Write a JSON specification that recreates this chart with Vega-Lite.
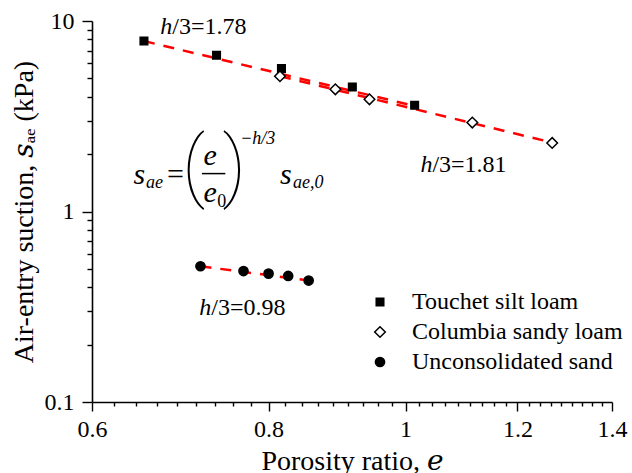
{
  "$schema": "https://vega.github.io/schema/vega-lite/v6.json",
  "width": 520,
  "height": 381,
  "autosize": "none",
  "padding": {"left": 92, "top": 21, "right": 20, "bottom": 71},
  "background": "white",
  "config": {
    "view": {"stroke": null},
    "font": "Liberation Serif, Times New Roman, DejaVu Serif, serif",
    "axis": {"grid": false, "domainColor": "black", "domainWidth": 1.6, "tickColor": "black", "tickWidth": 1.4, "labelColor": "black", "titleColor": "black", "labelFont": "Liberation Serif, Times New Roman, DejaVu Serif, serif", "titleFont": "Liberation Serif, Times New Roman, DejaVu Serif, serif", "labelFontSize": 24, "titleFontSize": 28, "titleFontWeight": "normal", "labelFlush": false, "labelOverlap": false},
    "legend": {"labelFont": "Liberation Serif, Times New Roman, DejaVu Serif, serif"},
    "text": {"font": "Liberation Serif, Times New Roman, DejaVu Serif, serif"}
  },
  "datasets": {
    "points": [
      {"soil": "Touchet silt loam", "e": 0.653, "s": 7.85},
      {"soil": "Touchet silt loam", "e": 0.735, "s": 6.61},
      {"soil": "Touchet silt loam", "e": 0.817, "s": 5.63},
      {"soil": "Touchet silt loam", "e": 0.917, "s": 4.50},
      {"soil": "Touchet silt loam", "e": 1.015, "s": 3.61},
      {"soil": "Columbia sandy loam", "e": 0.815, "s": 5.13},
      {"soil": "Columbia sandy loam", "e": 0.892, "s": 4.38},
      {"soil": "Columbia sandy loam", "e": 0.943, "s": 3.88},
      {"soil": "Columbia sandy loam", "e": 1.115, "s": 2.93},
      {"soil": "Columbia sandy loam", "e": 1.270, "s": 2.29},
      {"soil": "Unconsolidated sand", "e": 0.716, "s": 0.516},
      {"soil": "Unconsolidated sand", "e": 0.768, "s": 0.487},
      {"soil": "Unconsolidated sand", "e": 0.800, "s": 0.472},
      {"soil": "Unconsolidated sand", "e": 0.826, "s": 0.459},
      {"soil": "Unconsolidated sand", "e": 0.854, "s": 0.434}
    ],
    "fits": [
      {"soil": "Touchet silt loam", "e": 0.653, "s": 7.85},
      {"soil": "Touchet silt loam", "e": 1.02, "s": 3.55},
      {"soil": "Columbia sandy loam", "e": 0.815, "s": 5.13},
      {"soil": "Columbia sandy loam", "e": 1.27, "s": 2.30},
      {"soil": "Unconsolidated sand", "e": 0.716, "s": 0.516},
      {"soil": "Unconsolidated sand", "e": 0.854, "s": 0.434}
    ],
    "anno": [
      {"e": 0.6839, "s": 8.52, "sym": "h", "val": "/3=1.78"},
      {"e": 1.0448, "s": 1.612, "sym": "h", "val": "/3=1.81"},
      {"e": 0.7288, "s": 0.2851, "sym": "h", "val": "/3=0.98"}
    ],
    "fMain": [
      {"t": "s", "e": 0.6482, "s": 1.401},
      {"t": "e", "e": 0.7273, "s": 1.748},
      {"t": "e", "e": 0.7273, "s": 1.122},
      {"t": "s", "e": 0.8228, "s": 1.401}
    ],
    "fRoman": [{"t": "=", "e": 0.6873, "s": 1.401}],
    "fSub": [
      {"t": "ae", "e": 0.6643, "s": 1.335},
      {"t": "ae,0", "e": 0.8536, "s": 1.335},
      {"t": "−h/3", "e": 0.786, "s": 2.272}
    ],
    "fSubRoman": [{"t": "0", "e": 0.7414, "s": 1.056}],
    "fParen": [
      {"t": "(", "e": 0.708, "s": 1.272},
      {"t": ")", "e": 0.7567, "s": 1.272}
    ],
    "fBar": [{"e": 0.7177, "e2": 0.7456, "s": 1.581}]
  },
  "encoding": {
    "x": {
      "field": "e", "type": "quantitative",
      "scale": {"type": "log", "domain": [0.6, 1.4], "nice": false, "zero": false},
      "axis": {
        "title": "Porosity ratio, 𝑒",
        "values": [0.6, 0.62222, 0.64444, 0.66667, 0.68889, 0.71111, 0.73333, 0.75556, 0.77778, 0.8, 0.82222, 0.84444, 0.86667, 0.88889, 0.91111, 0.93333, 0.95556, 0.97778, 1, 1.02222, 1.04444, 1.06667, 1.08889, 1.11111, 1.13333, 1.15556, 1.17778, 1.2, 1.22222, 1.24444, 1.26667, 1.28889, 1.31111, 1.33333, 1.35556, 1.37778, 1.4],
        "labelExpr": "abs(datum.value*5-round(datum.value*5))<0.001 ? format(datum.value, '~g') : ''",
        "tickSize": {"condition": {"test": "abs(datum.value*5-round(datum.value*5))<0.001", "value": 9}, "value": 4},
        "labelPadding": 6,
        "titlePadding": 6
      }
    },
    "y": {
      "field": "s", "type": "quantitative",
      "scale": {"type": "log", "domain": [0.1, 10], "nice": false, "zero": false},
      "axis": {
        "title": "Air-entry suction, 𝑠ₐₑ (kPa)",
        "values": [0.1, 0.2, 0.3, 0.4, 0.5, 0.6, 0.7, 0.8, 0.9, 1, 2, 3, 4, 5, 6, 7, 8, 9, 10],
        "labelExpr": "abs(log(datum.value)/LN10-round(log(datum.value)/LN10))<0.001 ? format(datum.value, '~g') : ''",
        "tickSize": {"condition": {"test": "abs(log(datum.value)/LN10-round(log(datum.value)/LN10))<0.001", "value": 10}, "value": 5},
        "labelPadding": 8,
        "titlePadding": 6
      }
    }
  },
  "layer": [
    {
      "data": {"name": "fits"},
      "mark": {"type": "line", "color": "#FF0000", "strokeDash": [11, 9], "strokeWidth": 2.5},
      "encoding": {"detail": {"field": "soil"}}
    },
    {
      "data": {"name": "points"},
      "mark": {"type": "point", "filled": true, "strokeWidth": 1.5, "opacity": 1, "size": 85},
      "encoding": {
        "shape": {
          "field": "soil", "type": "nominal",
          "scale": {"domain": ["Touchet silt loam", "Columbia sandy loam", "Unconsolidated sand"], "range": ["M-0.82,-0.82H0.82V0.82H-0.82Z", "M0,-1.15L1.15,0L0,1.15L-1.15,0Z", "circle"]},
          "legend": {"title": null, "orient": "none", "legendX": 276, "legendY": 269, "labelFontSize": 24, "labelColor": "black", "labelLimit": 400, "rowPadding": 6, "labelOffset": 20, "symbolStrokeWidth": 1.5, "symbolSize": 85, "padding": 0}
        },
        "fill": {
          "field": "soil", "type": "nominal",
          "scale": {"domain": ["Touchet silt loam", "Columbia sandy loam", "Unconsolidated sand"], "range": ["black", "white", "black"]},
          "legend": {"title": null, "orient": "none", "legendX": 276, "legendY": 269, "labelFontSize": 24, "labelColor": "black", "labelLimit": 400, "rowPadding": 6, "labelOffset": 20, "symbolStrokeWidth": 1.5, "symbolSize": 85, "padding": 0}
        },
        "stroke": {
          "field": "soil", "type": "nominal",
          "scale": {"domain": ["Touchet silt loam", "Columbia sandy loam", "Unconsolidated sand"], "range": ["black", "black", "black"]},
          "legend": {"title": null, "orient": "none", "legendX": 276, "legendY": 269, "labelFontSize": 24, "labelColor": "black", "labelLimit": 400, "rowPadding": 6, "labelOffset": 20, "symbolStrokeWidth": 1.5, "symbolSize": 85, "padding": 0}
        }
      }
    },
    {
      "data": {"name": "anno"},
      "mark": {"type": "text", "align": "right", "baseline": "alphabetic", "fontSize": 24, "fontStyle": "italic", "color": "black"},
      "encoding": {"text": {"field": "sym"}}
    },
    {
      "data": {"name": "anno"},
      "mark": {"type": "text", "align": "left", "baseline": "alphabetic", "fontSize": 24, "color": "black"},
      "encoding": {"text": {"field": "val"}}
    },
    {
      "data": {"name": "fMain"},
      "mark": {"type": "text", "align": "center", "baseline": "alphabetic", "fontSize": 30, "fontStyle": "italic", "color": "black"},
      "encoding": {"text": {"field": "t"}}
    },
    {
      "data": {"name": "fRoman"},
      "mark": {"type": "text", "align": "center", "baseline": "alphabetic", "fontSize": 30, "color": "black"},
      "encoding": {"text": {"field": "t"}}
    },
    {
      "data": {"name": "fSub"},
      "mark": {"type": "text", "align": "center", "baseline": "alphabetic", "fontSize": 18, "fontStyle": "italic", "color": "black"},
      "encoding": {"text": {"field": "t"}}
    },
    {
      "data": {"name": "fSubRoman"},
      "mark": {"type": "text", "align": "center", "baseline": "alphabetic", "fontSize": 18, "color": "black"},
      "encoding": {"text": {"field": "t"}}
    },
    {
      "data": {"name": "fParen"},
      "mark": {"type": "text", "align": "center", "baseline": "alphabetic", "fontSize": 78, "font": "Roboto, Inter, Lato, DejaVu Sans", "fontWeight": 100, "color": "black"},
      "encoding": {"text": {"field": "t"}}
    },
    {
      "data": {"name": "fBar"},
      "mark": {"type": "rule", "color": "black", "strokeWidth": 1.5},
      "encoding": {"x2": {"field": "e2"}}
    }
  ]
}
